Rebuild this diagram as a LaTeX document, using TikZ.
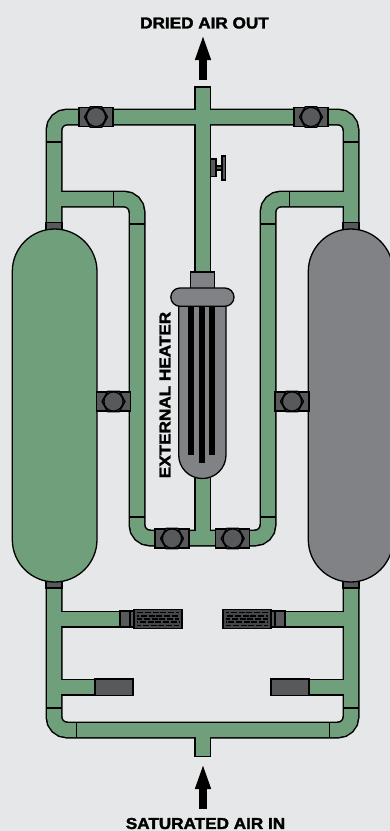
\documentclass[tikz,border=0pt]{standalone}
\usepackage{fontspec}
\setmainfont{Liberation Sans}
\newfontfamily\labelfont[FakeBold=2,FakeStretch=1.085]{Liberation Sans Bold}
\usepackage{tikz}
\usetikzlibrary{arrows.meta,positioning,calc}

\definecolor{panelgrey}{HTML}{E6E7E8}
\definecolor{pipegreen}{HTML}{6F9F7B}
\definecolor{darkgrey}{HTML}{58595B}
\definecolor{tankgrey}{HTML}{808285}

\tikzset{
  pipeout/.style={line width=17pt, black, rounded corners=13pt},
  pipein/.style={line width=14pt, pipegreen, rounded corners=13pt},
  joint/.style={line width=1.3pt, black},
  tank/.style={draw=black, line width=1.3pt, rounded corners=42.4pt},
  block/.style={draw=black, line width=1.3pt, fill=darkgrey},
  label/.style={font=\labelfont\fontsize{15.8}{18}\selectfont, inner sep=0pt, text=black},
  flow/.style={line width=8.2pt, black, -{Triangle[length=26pt,width=14pt]}},
  valve/.pic={
    \draw[block] (-17,-9.6) rectangle (17,9.6);
    \draw[block] (-11.5,0) -- (-5.8,-10.2) -- (5.8,-10.2) -- (11.5,0) -- (5.8,10.2) -- (-5.8,10.2) -- cycle;
    \draw[block] (0,0) circle (9.6pt);
  },
  filter/.pic={
    \draw[block] (0,-8) rectangle (10,8);
    \draw[block] (10,-8) rectangle (14,8);
    \draw[draw=black, line width=1.6pt, fill=darkgrey!80!black] (14,-9.5) rectangle (62,9.5);
    \foreach \row/\shift in {-6.6/0,-3.3/4,0/1,3.3/5,6.6/2}
      \draw[line width=1.7pt, dash pattern=on 6pt off 1.8pt, dash phase=\shift pt] (17,\row) -- (59,\row);
  }
}

\newcommand{\pipepaths}[1]{
  \draw[#1] (54,229) -- (54,117) -- (351,117) -- (351,229);
  \draw[#1] (202.5,117) -- (202.5,272);
  \draw[#1] (54,199) -- (137,199) -- (137,538) -- (268,538) -- (268,199) -- (351,199);
  \draw[#1] (202.5,478) -- (202.5,538);
  \draw[#1] (54,582) -- (54,730) -- (351,730) -- (351,582);
  \draw[#1] (54,619) -- (122,619);
  \draw[#1] (54,687) -- (97,687);
  \draw[#1] (351,619) -- (283,619);
  \draw[#1] (351,687) -- (307,687);
}

\begin{document}
\begin{tikzpicture}[x=1pt, y=-1pt]
  \useasboundingbox (0,0) rectangle (390,831);
  \fill[panelgrey] (0,0) rectangle (390,831);

  % pipes
  \pipepaths{pipeout}
  \draw[pipeout] (202.5,86) -- (202.5,117);
  \draw[pipeout] (202.5,730) -- (202.5,757);
  \pipepaths{pipein}
  \draw[pipein] (202.5,87.5) -- (202.5,117);
  \draw[pipein] (202.5,730) -- (202.5,755.5);

  % pipe joints
  \foreach \xa/\ya/\xb/\yb in {46/142/62/142, 343/142/359/142, 129/224/145/224, 260/224/276/224,
      113.5/191/113.5/207, 289.5/191/289.5/207, 129/517/145/517, 260/517/276/517,
      46/708/62/708, 343/708/359/708, 76.7/722/76.7/738, 329.3/722/329.3/738}
    \draw[joint] (\xa,\ya) -- (\xb,\yb);

  % tanks
  \draw[block] (46,222.5) rectangle (62,232);
  \draw[block] (343,222.5) rectangle (359,232);
  \draw[block] (46,579) rectangle (62,588);
  \draw[block] (343,579) rectangle (359,588);
  \draw[tank, fill=pipegreen] (12.3,229) rectangle (97,582);
  \draw[tank, fill=tankgrey] (308.3,229) rectangle (393,582);

  % valves
  \pic at (96,117) {valve};
  \pic at (311,117) {valve};
  \pic at (113.5,401.5) {valve};
  \pic at (292,401.5) {valve};
  \pic at (172,538.5) {valve};
  \pic at (232.7,538.5) {valve};

  % hand valve
  \draw[block] (210.7,159) rectangle (216,176.5);
  \draw[block] (216,166) rectangle (222,170);
  \draw[block] (222,156) rectangle (225.5,180);

  % heater
  \draw[block, fill=tankgrey] (190.5,272) rectangle (214.3,290);
  \draw[tank, rounded corners=23.5pt, fill=tankgrey] (178.7,296) -- (178.7,478.5) -- (226,478.5) -- (226,296);
  \draw[tank, rounded corners=9.2pt, fill=tankgrey] (170.8,288) rectangle (234,306.3);
  \fill[black] (188,306.8) rectangle (194,455);
  \fill[black] (199,306.8) rectangle (205,462.7);
  \fill[black] (209,306.8) rectangle (215,455);

  % filters and silencers
  \pic at (120,619) {filter};
  \pic[xscale=-1] at (285,619) {filter};
  \draw[block] (95,679) rectangle (133,695.3);
  \draw[block] (271,679) rectangle (309,695.3);

  % labels and flow arrows
  \node[label] (outlabel) at (204.5,23) {DRIED AIR OUT};
  \node[label] (inlabel) at (205.5,823.5) {SATURATED AIR IN};
  \node[label, rotate=90] (heaterlabel) at (165,395) {EXTERNAL HEATER};
  \coordinate (outtail) at (203,79.5);
  \coordinate (outtip) at (203,34);
  \coordinate (intail) at (203,809);
  \coordinate (intip) at (203,763);
  \draw[flow] (outtail) -- (outtip);
  \draw[flow] (intail) -- (intip);
\end{tikzpicture}
\end{document}
